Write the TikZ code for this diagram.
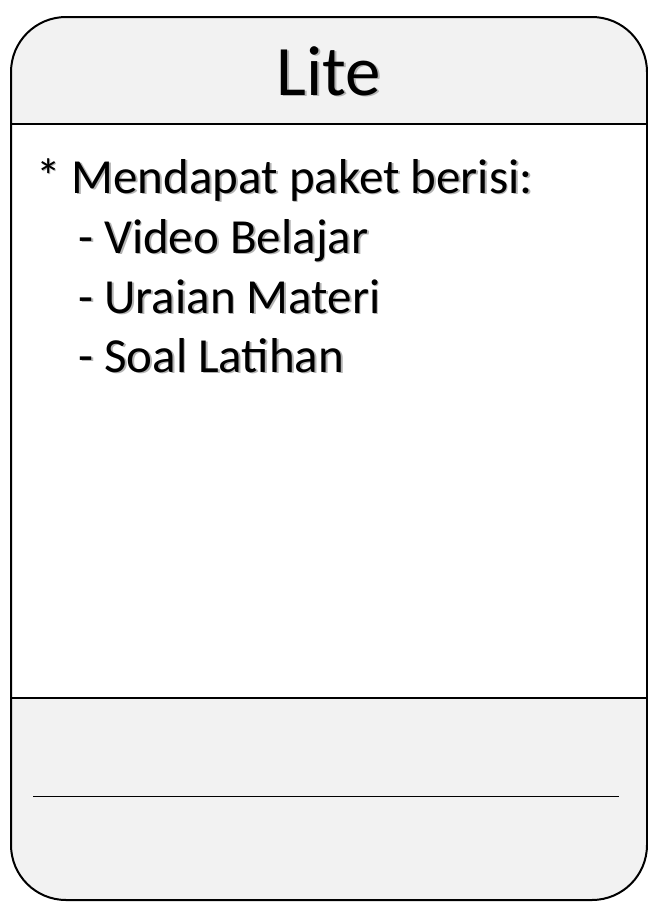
\documentclass[tikz,border=0pt]{standalone}
\usepackage{fontspec}
\setmainfont{Carlito}
\definecolor{panel}{HTML}{F2F2F2}
\definecolor{shade}{HTML}{B4B4B4}
\newcommand{\shtext}[1]{\makebox[0pt][l]{\hspace{1.8pt}\raisebox{-1.8pt}{\textcolor{shade}{#1}}}#1}
\tikzset{
  cardline/.style={line width=2pt, draw=black},
  thinline/.style={line width=1pt, draw=black},
  titletext/.style={inner sep=0pt, anchor=base, font=\fontsize{71}{85}\selectfont},
  bodytext/.style={inner sep=0pt, anchor=base west, font=\fontsize{49}{59}\selectfont},
}
\begin{document}
\begin{tikzpicture}[x=1pt,y=-1pt]
\useasboundingbox (0,0) rectangle (648,903);
% card body
\fill[white, rounded corners=55pt] (11,17) rectangle (647,900);
\begin{scope}
  \clip[rounded corners=55pt] (11,17) rectangle (647,900);
  \fill[panel] (11,17) rectangle (647,124);
  \fill[panel] (11,698) rectangle (647,900);
\end{scope}
\draw[cardline, rounded corners=55pt] (11,17) rectangle (647,900);
\coordinate (hl) at (11,124);
\coordinate (hr) at (647,124);
\coordinate (fl) at (11,698);
\coordinate (fr) at (647,698);
\coordinate (sl) at (33,796);
\coordinate (sr) at (619,796);
\draw[cardline] (hl) -- (hr);
\draw[cardline] (fl) -- (fr);
\draw[thinline] (sl) -- (sr);
% title
\node[titletext] (title) at (329,95) {\shtext{Lite}};
% body
\node[bodytext] (l1) at (36,193) {\shtext{* Mendapat paket berisi:}};
\node[bodytext] (l2) at (78,253) {\shtext{- Video Belajar}};
\node[bodytext] (l3) at (78,313) {\shtext{- Uraian Materi}};
\node[bodytext] (l4) at (78,372) {\shtext{- Soal Latihan}};
\end{tikzpicture}
\end{document}
